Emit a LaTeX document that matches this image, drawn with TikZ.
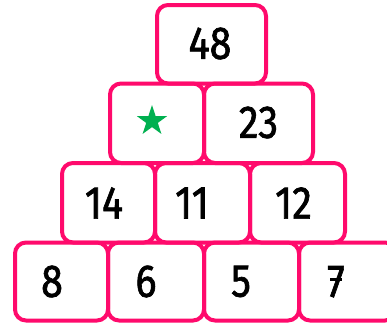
\documentclass[tikz,border=0pt]{standalone}
\usepackage{fontspec}
\setmainfont{Fira Sans}
\newfontfamily\digitfont[FakeBold=1.6]{Fira Sans}
\usetikzlibrary{shapes.geometric}
\definecolor{boxpink}{HTML}{FF0A6C}
\definecolor{stargreen}{HTML}{00B050}
\tikzset{
  cell/.style={draw=boxpink, line width=4pt, rounded corners=11pt,
    inner sep=0pt},
  num/.style={inner sep=0pt, font=\digitfont\fontsize{46}{46}\selectfont, text=black},
}
\newcommand{\dg}[1]{\scalebox{0.86}[1]{#1}}
\newcommand{\sevenx}{\ooalign{7\cr\hidewidth\kern1pt\rule[15.5pt]{14pt}{3.6pt}\hidewidth\cr}}
\begin{document}
\begin{tikzpicture}[x=1pt,y=-1pt]
\useasboundingbox (0,0) rectangle (387,327);
\fill[white] (0,0) rectangle (387,327);
% row 4 (borders at y 242.5 .. 320.5)
\node[cell, minimum width=93pt, minimum height=78pt] (r4a) at (61.5,281.5) {};
\node[cell, minimum width=96pt, minimum height=78pt] (r4b) at (156,281.5) {};
\node[cell, minimum width=95pt, minimum height=78pt] (r4c) at (251.5,281.5) {};
\node[cell, minimum width=97pt, minimum height=78pt] (r4d) at (347.5,281.5) {};
% row 3 (borders at y 163 .. 242.5)
\node[cell, minimum width=93pt, minimum height=79.5pt] (r3a) at (108.5,202.75) {};
\node[cell, minimum width=95pt, minimum height=79.5pt] (r3b) at (202.5,202.75) {};
\node[cell, minimum width=95pt, minimum height=79.5pt] (r3c) at (297.5,202.75) {};
% row 2 (borders at y 83.5 .. 163)
\node[cell, minimum width=94pt, minimum height=79.5pt] (r2a) at (157,123.25) {};
\node[cell, minimum width=109pt, minimum height=79.5pt] (r2b) at (258.5,123.25) {};
% row 1 (borders at y 5 .. 83.5)
\node[cell, minimum width=109pt, minimum height=78.5pt] (r1) at (211.5,44.25) {};
% numbers
\node[num] (t48) at (210,43.5) {\dg{48}};
\node[num] (t23) at (258.5,122.5) {\dg{23}};
\node[num] (t14) at (104,203) {\dg{14}};
\node[num] (t11) at (192,203) {\dg{11}};
\node[num] (t12) at (293.5,203) {\dg{12}};
\node[num] (t8) at (52,281.5) {\dg{8}};
\node[num] (t6) at (146,281.5) {\dg{6}};
\node[num] (t5) at (241,281.5) {\dg{5}};
\node[num] (t7) at (336,281.5) {\dg{\sevenx}};
% star
\node[star, star points=5, star point ratio=2.618, fill=stargreen, inner sep=0pt, minimum size=32pt] (st) at (152,121) {};
\end{tikzpicture}
\end{document}
